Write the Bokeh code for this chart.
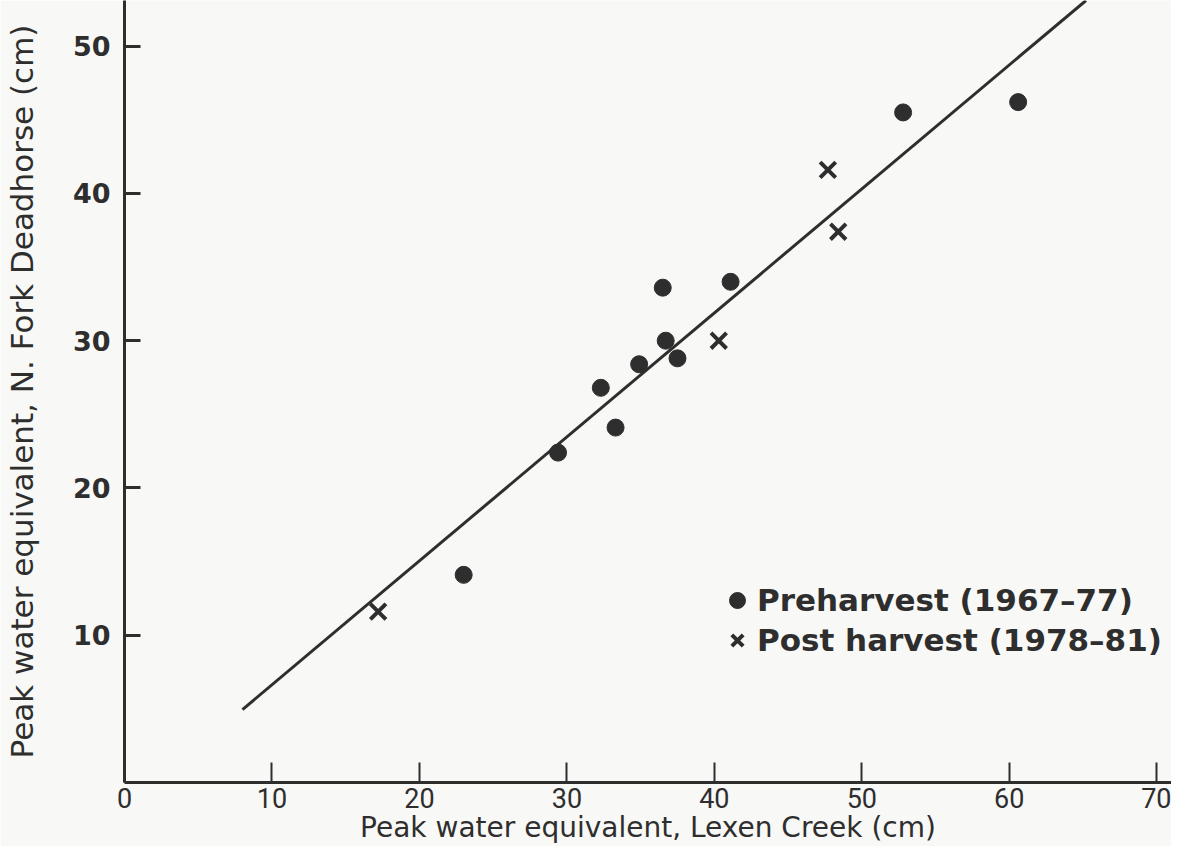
from bokeh.plotting import figure
from bokeh.models import Range1d, FixedTicker, Legend, LegendItem
from bokeh.embed import file_html
from bokeh.resources import INLINE

# Preharvest (1967-77)
pre_x = [23.0, 29.4, 33.3, 32.3, 34.9, 36.7, 37.5, 36.5, 41.1, 52.8, 60.6]
pre_y = [14.1, 22.4, 24.1, 26.8, 28.4, 30.0, 28.8, 33.6, 34.0, 45.5, 46.2]
# Post harvest (1978-81)
post_x = [17.2, 40.3, 47.7, 48.4]
post_y = [11.6, 30.0, 41.6, 37.4]
# regression line end points
line_x = [8.0, 65.2]
line_y = [4.95, 53.1]

x_ticks = [0, 10, 20, 30, 40, 50, 60, 70]
y_ticks = [10, 20, 30, 40, 50]

INK = "#2e2e2e"
BG = "#f8f8f6"

p = figure(width=1171, height=846, output_backend="svg", toolbar_location=None,
           x_range=Range1d(0, 71.0), y_range=Range1d(0, 53.1),
           min_border_left=122, min_border_right=0, min_border_top=0, min_border_bottom=60)
p.background_fill_color = BG
p.border_fill_color = BG
p.outline_line_color = None
p.grid.visible = False

line_r = p.line(line_x, line_y, line_width=3, color=INK)
pre_r = p.scatter(pre_x, pre_y, marker="circle", size=17, fill_color=INK, line_color=INK)
post_r = p.scatter(post_x, post_y, marker="x", size=22, line_width=4, line_color=INK)

for ax in (p.xaxis[0], p.yaxis[0]):
    ax.axis_line_width = 3
    ax.axis_line_color = INK
    ax.major_tick_line_color = INK
    ax.major_tick_out = 0
    ax.minor_tick_line_color = None
    ax.major_label_text_color = INK
    ax.axis_label_text_color = INK
    ax.axis_label_text_font_style = "normal"

p.xaxis.ticker = FixedTicker(ticks=x_ticks)
p.yaxis.ticker = FixedTicker(ticks=y_ticks)
p.xaxis.major_tick_in = 20
p.xaxis.major_tick_line_width = 2
p.yaxis.major_tick_in = 16
p.yaxis.major_tick_line_width = 3

p.yaxis.axis_label = "Peak water equivalent, N. Fork Deadhorse (cm)"
p.yaxis.axis_label_text_font = "DejaVu Sans"
p.yaxis.axis_label_text_font_size = "31px"
p.yaxis.major_label_text_font = "DejaVu Sans"
p.yaxis.major_label_text_font_style = "bold"
p.yaxis.major_label_text_font_size = "27px"
p.yaxis.major_label_standoff = 14
p.yaxis.axis_label_standoff = 30

p.xaxis.axis_label = "Peak water equivalent, Lexen Creek (cm)"
p.xaxis.axis_label_text_font = "DejaVu Sans"
p.xaxis.axis_label_text_font_size = "28px"
p.xaxis.major_label_text_font = "Roboto"
p.xaxis.major_label_text_font_size = "27px"
p.xaxis.major_label_standoff = 5
p.xaxis.axis_label_standoff = 0

legend = Legend(items=[LegendItem(label="Preharvest (1967–77)", renderers=[pre_r]),
                       LegendItem(label="Post harvest (1978–81)", renderers=[post_r])],
                location=(593, 122))
legend.label_text_font = "DejaVu Sans"
legend.label_text_font_style = "bold"
legend.label_text_font_size = "31px"
legend.label_text_color = INK
legend.background_fill_alpha = 0
legend.border_line_alpha = 0
legend.padding = 0
legend.margin = 0
legend.spacing = 0
legend.glyph_width = 40
legend.glyph_height = 40
legend.label_height = 40
legend.label_standoff = 0
p.add_layout(legend)

open("out.html", "w").write(file_html(p, INLINE))
